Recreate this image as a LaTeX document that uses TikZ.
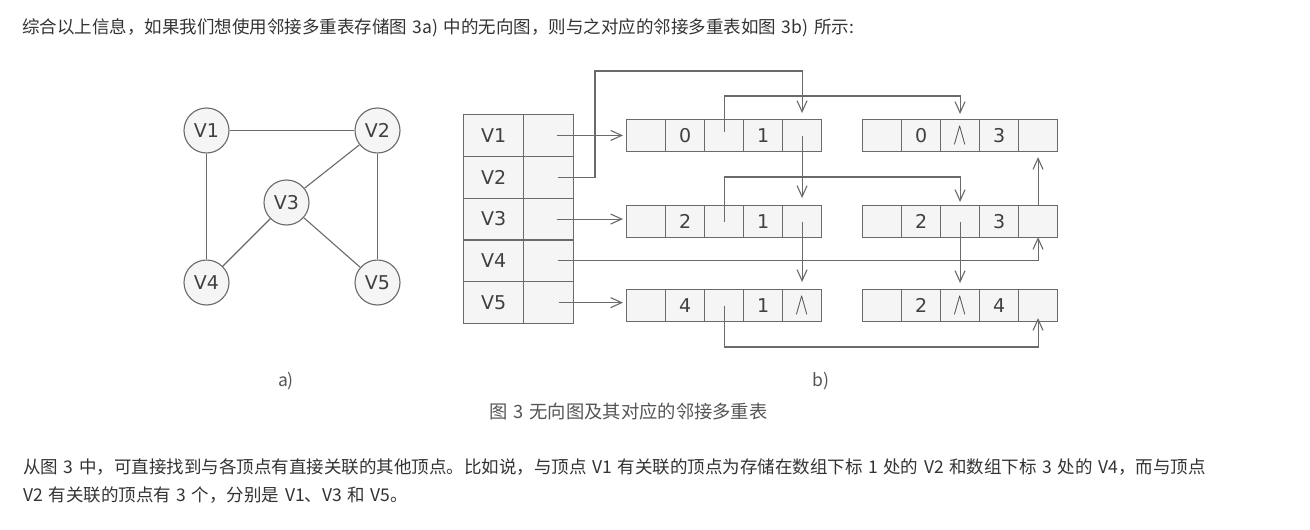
\documentclass[tikz,border=0pt]{standalone}
\usepackage{fontspec}
\usepackage{graphicx}
\setmainfont{DejaVu Sans}
\newfontfamily\cjk{Noto Sans CJK SC}
\newfontfamily\dv{DejaVu Sans}
\usetikzlibrary{arrows.meta,calc}
\definecolor{ln}{HTML}{6A6A6A}
\definecolor{fl}{HTML}{F5F5F5}
\definecolor{tx}{HTML}{404040}
\definecolor{bodytx}{HTML}{333333}
\definecolor{captx}{HTML}{555555}
\newcommand\nul{\raisebox{-1pt}{\scalebox{1.15}[1.8]{$\wedge$}}}
\newcommand\bodyfont{\cjk\fontsize{17.5}{17.5}\selectfont\spaceskip=5.6pt\relax}
\newcommand\capfont{\cjk\fontsize{18.3}{18.3}\selectfont\spaceskip=6pt\relax}
\newcommand\rec[8]{%
  \node[cell] (#1-1) at (#2,#3) {#4};
  \node[cell] (#1-2) at (#2+39,#3) {#5};
  \node[cell] (#1-3) at (#2+78,#3) {#6};
  \node[cell] (#1-4) at (#2+117,#3) {#7};
  \node[cell] (#1-5) at (#2+156,#3) {#8};}
\begin{document}
\begin{tikzpicture}[x=1pt,y=-1pt,
  vertex/.style={circle,draw=ln,fill=fl,line width=1.1pt,minimum size=45pt,inner sep=0pt,
    font=\dv\fontsize{19}{19}\selectfont,text=tx},
  edge/.style={draw=ln,line width=1.1pt},
  cell/.style={rectangle,draw=ln,fill=fl,line width=1.1pt,minimum width=39pt,minimum height=32pt,
    inner sep=0pt,font=\dv\fontsize{19}{19}\selectfont,text=tx,anchor=north west},
  tname/.style={cell,minimum width=60pt,minimum height=41.8pt},
  tptr/.style={cell,minimum width=50pt,minimum height=41.8pt},
  ptr/.style={draw=ln,line width=1.1pt,-{Straight Barb[length=11pt,width=10pt]}},
  bodytext/.style={font=\bodyfont,text=bodytx,anchor=west,inner sep=0pt},
  lab/.style={font=\cjk\fontsize{17.5}{17.5}\selectfont,text=captx,inner sep=0pt},
]
\useasboundingbox[fill=white] (0,0) rectangle (1310,530);

% texts
\node[bodytext] (t1) at (22,28) {综合以上信息，如果我们想使用邻接多重表存储图 3a) 中的无向图，则与之对应的邻接多重表如图 3b) 所示:};
\node[bodytext] (t2) at (23,467) {从图 3 中，可直接找到与各顶点有直接关联的其他顶点。比如说，与顶点 V1 有关联的顶点为存储在数组下标 1 处的 V2 和数组下标 3 处的 V4，而与顶点};
\node[bodytext] (t3) at (23,495) {V2 有关联的顶点有 3 个，分别是 V1、V3 和 V5。};
\node[bodytext,text=captx,font=\capfont] (cap) at (489,411.5) {图 3 无向图及其对应的邻接多重表};
\node[lab] (la) at (286,381) {a)};
\node[lab] (lb) at (821,381) {b)};

% graph a)
\node[vertex] (V1) at (206.5,130.5) {V1};
\node[vertex] (V2) at (377.5,130.5) {V2};
\node[vertex] (V3) at (286.5,202.5) {V3};
\node[vertex] (V4) at (206.5,282.5) {V4};
\node[vertex] (V5) at (377.5,282.5) {V5};
\draw[edge] (V1) -- (V2);
\draw[edge] (V1) -- (V4);
\draw[edge] (V2) -- (V5);
\draw[edge] (V2) -- (V3);
\draw[edge] (V3) -- (V4);
\draw[edge] (V3) -- (V5);

% vertex table
\node[tname] (N1) at (463,114) {V1}; \node[tptr] (P1) at (523,114) {};
\node[tname] (N2) at (463,155.8) {V2}; \node[tptr] (P2) at (523,155.8) {};
\node[tname] (N3) at (463,197.6) {V3}; \node[tptr] (P3) at (523,197.6) {};
\node[tname] (N4) at (463,239.4) {V4}; \node[tptr] (P4) at (523,239.4) {};
\node[tname] (N5) at (463,281.2) {V5}; \node[tptr] (P5) at (523,281.2) {};

% edge records
\rec{L1}{626}{119}{}{0}{}{1}{}
\rec{L2}{626}{205}{}{2}{}{1}{}
\rec{L3}{626}{289}{}{4}{}{1}{\nul}
\rec{R1}{862}{119}{}{0}{\nul}{3}{}
\rec{R2}{862}{205}{}{2}{}{3}{}
\rec{R3}{862}{289}{}{2}{\nul}{4}{}

\coordinate (v2top) at (595,71);
\coordinate (y96) at (0,96);
\coordinate (y177) at (0,177);
\coordinate (y347) at (0,347);

% connectors
\draw[ptr,shorten >=3pt] ([xshift=8pt]P1.center) -- (P1.center -| L1-1.west);
\draw[ptr,shorten >=6pt] ([xshift=9pt]P2.center) -| (v2top) -| (L1-5.north);
\draw[ptr,shorten >=3pt] ([xshift=8pt]P3.center) -- (P3.center -| L2-1.west);
\draw[ptr,shorten >=-1pt] ([xshift=9pt]P4.center) -| (R2-5.south);
\draw[ptr,shorten >=3pt] ([xshift=10pt]P5.center) -- (P5.center -| L3-1.west);

\draw[ptr,shorten >=5pt] ([yshift=4pt]L1-3.center) -- (L1-3.center |- y96) -| (R1-3.north);
\draw[ptr,shorten >=7pt] (L1-5.center) -- (L2-5.north);
\draw[ptr,shorten >=3pt] (L2-3.center) -- (L2-3.center |- y177) -| (R2-3.north);
\draw[ptr,shorten >=7pt] (L2-5.center) -- (L3-5.north);
\draw[ptr,shorten >=-4pt] (L3-3.center) -- (L3-3.center |- y347) -| (R3-5.south);
\draw[ptr,shorten >=5pt] (R2-5.north) -- (R1-5.south);
\draw[ptr,shorten >=6pt] (R2-3.center) -- (R3-3.north);
\end{tikzpicture}
\end{document}
